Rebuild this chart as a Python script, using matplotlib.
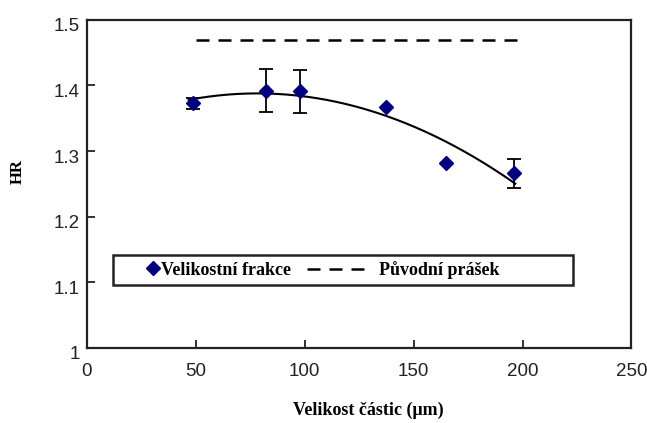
import numpy as np
import matplotlib
matplotlib.use('Agg')
import matplotlib.pyplot as plt
import matplotlib.transforms as mtransforms
from matplotlib.lines import Line2D
from matplotlib.patches import Rectangle

# data
size_um = [48.8, 82.4, 97.8, 137.3, 165.1, 196.2]  # velikost částic
hr = [1.373, 1.392, 1.391, 1.367, 1.281, 1.266]
hr_err = [0.0085, 0.033, 0.033, 0.0, 0.0, 0.022]
powder_x = [50, 200]  # původní prášek
powder_hr = [1.47, 1.47]

xticks = [0, 50, 100, 150, 200, 250]
yticks = [1.0, 1.1, 1.2, 1.3, 1.4, 1.5]

serif = ['Liberation Serif', 'DejaVu Serif']
sans = ['Liberation Sans', 'DejaVu Sans']
navy = '#000080'
dash = (5.2, 3.6)

fig = plt.figure(figsize=(6.47, 4.23), dpi=100)
ax = fig.add_axes([0.134, 0.178, 0.842, 0.775])

# trend line (2nd order fit of the points)
coef = np.polyfit(size_um, hr, 2)
xs = np.linspace(min(size_um) - 2, max(size_um) + 0.5, 200)
ax.plot(xs, np.polyval(coef, xs), color='black', lw=1.5, zorder=2)

# error bars
err_x = [x for x, e in zip(size_um, hr_err) if e > 0]
err_y = [y for y, e in zip(hr, hr_err) if e > 0]
err_e = [e for e in hr_err if e > 0]
ax.errorbar(err_x, err_y, yerr=err_e, fmt='none', ecolor='black',
            elinewidth=1.3, capsize=4.8, capthick=1.3, zorder=3)
ax.plot(size_um, hr, 'D', color=navy, ms=6.8, zorder=4)

ax.plot(powder_x, powder_hr, color='black', lw=1.8, dashes=dash, zorder=2)

ax.set_xlim(0, 250)
ax.set_ylim(1.0, 1.5)
ax.set_xticks(xticks)
ax.set_yticks(yticks)
ax.set_xticklabels([f'{v:g}' for v in xticks], family=sans, fontsize=13.5, color='#222222')
ax.set_yticklabels([f'{v:g}' for v in yticks], family=sans, fontsize=13.5, color='#222222')
ax.tick_params(axis='both', direction='in', length=6, width=1.3, color='#222222')
ax.tick_params(axis='x', pad=11)
ax.tick_params(axis='y', pad=5)
off = mtransforms.ScaledTranslation(0, -5 / 100, fig.dpi_scale_trans)
for lbl in ax.get_yticklabels():
    lbl.set_transform(lbl.get_transform() + off)
for sp in ax.spines.values():
    sp.set_linewidth(1.6)
    sp.set_color('#222222')

# axis titles
fig.text(0.028, 0.595, 'HR', rotation=90, ha='center', va='center',
         family=serif, fontweight='bold', fontsize=12)
fig.text(0.569, 0.03, 'Velikost částic (μm)', ha='center', va='center',
         family=serif, fontweight='bold', fontsize=13)

# legend box
ax.add_patch(Rectangle((0.048, 0.191), 0.844, 0.0915, transform=ax.transAxes,
                       fill=False, edgecolor='#222222', lw=1.8, zorder=5))
h1 = Line2D([], [], ls='none', marker='D', color=navy, ms=6.8)
h2 = Line2D([], [], color='black', lw=1.8, dashes=dash)
prop = {'family': serif, 'weight': 'bold', 'size': 13}
leg1 = ax.legend([h1], ['Velikostní frakce'], loc='center left',
                 bbox_to_anchor=(0.111, 0.237), frameon=False, prop=prop,
                 handlelength=0.6, handletextpad=0.15, borderpad=0, borderaxespad=0)
ax.add_artist(leg1)
ax.legend([h2], ['Původní prášek'], loc='center left',
          bbox_to_anchor=(0.405, 0.237), frameon=False, prop=prop,
          handlelength=3.3, handletextpad=0.65, borderpad=0, borderaxespad=0)

fig.savefig('out.png', dpi=100)
